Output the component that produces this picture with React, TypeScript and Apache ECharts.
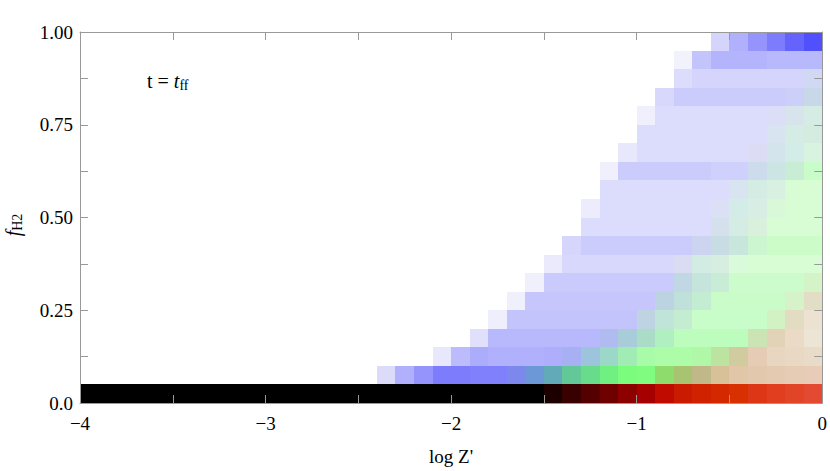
import React, { useEffect, useRef } from "react";
import * as echarts from "echarts";

// bin size of the 2D histogram (log Z' by f_H2)
const CELL_W = 0.1;
const CELL_H = 0.05;

// left edge (log Z') of the first filled bin in each f_H2 row, bottom row first
const rowStartX = [-4.0, -2.4, -2.1, -1.9, -1.8, -1.7, -1.6, -1.5, -1.4, -1.3, -1.3, -1.2, -1.2, -1.1, -1.0, -1.0, -0.9, -0.8, -0.8, -0.6];

// bin colours for each row, left to right
const row0 = [
  "#000000", "#000000", "#000000", "#000000", "#000000", "#000000", "#000000", "#000000", "#000000", "#000000",
  "#000000", "#000000", "#000000", "#000000", "#000000", "#000000", "#000000", "#000000", "#000000", "#000000",
  "#000000", "#000000", "#000000", "#000000", "#000000",
  "#1c0000", "#380000", "#540000", "#6e0000", "#8c0000", "#a60000", "#c00c00", "#ca1a00", "#d02200", "#d42800",
  "#d83000", "#dc3616", "#e03e1e", "#e24428", "#e44a32",
];
const row1 = [
  "#dcdcfa", "#b0b0fc", "#9494fc", "#7c7cfc", "#7c7cfc", "#8080fc", "#8080fc", "#7c88ec", "#6c98d8", "#62aab8",
  "#62c898", "#68dc8a", "#70f080", "#7cfc7c", "#80fc80", "#8edc6c", "#a8c470", "#c0b888", "#d8c098", "#e2c6a8",
  "#e2c8ac", "#e4cab0", "#e6ccb4", "#e8ccb8",
];
const row2 = [
  "#e8e8fc", "#bcbcfc", "#acacfc", "#b0b0fc", "#b0b0fc", "#b0b0fc", "#aeaefc", "#a6b0f2", "#9cc4dc", "#9cd8c8",
  "#a0ecb4", "#a8fca8", "#acfca8", "#acfca8", "#b0f8a8", "#bce4a0", "#d0cca0", "#e6ccb4", "#e8d6c0", "#e8d8c4",
  "#e8dcc8",
];
const row3 = [
  "#e0e0fc", "#b8b8fc", "#b8b8fc", "#b8b8fc", "#b8b8fc", "#b8b8fc", "#b8b8fc", "#b0bcf0", "#a8ccd8", "#aadcc8",
  "#b0f0c0", "#bcfcbc", "#bcfcbc", "#bcfcbc", "#bcfcbc", "#cce4b4", "#e2d2b8", "#eadac6", "#ece4d4",
];
const row4 = [
  "#eeeefc", "#c4c4fc", "#c4c4fc", "#c4c4fc", "#c4c4fc", "#c4c4fc", "#c4c4fc", "#c4c4fc", "#bed4e2", "#c0e4d8",
  "#c4ecd0", "#c8fcc8", "#c8fcc8", "#c8fcc8", "#c8fcc8", "#d2f2c4", "#e2dcc2", "#ece2d2",
];
const row5 = [
  "#f0f0fc", "#c6c6fc", "#c6c6fc", "#c6c6fc", "#c6c6fc", "#c6c6fc", "#c6c6fc", "#c6c6fc", "#bcd4e2", "#c0e0da",
  "#c4ecd2", "#cafcca", "#cafcca", "#cafcca", "#cafcca", "#d6f2c8", "#e2dec6",
];
const row6 = [
  "#f0f0fc", "#cacafc", "#cacafc", "#cacafc", "#cacafc", "#cacafc", "#cacafc", "#cacafc", "#c0d8e4", "#c4e4dc",
  "#c8ecd6", "#ccfccc", "#ccfccc", "#ccfccc", "#ccfccc", "#d4f4c8",
];
const row7 = [
  "#eaeafc", "#d8d8fc", "#d8d8fc", "#d8d8fc", "#d8d8fc", "#d8d8fc", "#d8d8fc", "#dadcf4", "#d2ece4", "#d6eee0",
  "#dafadc", "#d8fcd4", "#d8fcd4", "#d8fcd4", "#d8fcd4",
];
const row8 = [
  "#d6d6fc", "#ccccfc", "#ccccfc", "#ccccfc", "#ccccfc", "#ccccfc", "#ccccfc", "#ccd4f0", "#c8dce4", "#c8e6dc",
  "#ccf6d0", "#ccfcc8", "#ccfcc8", "#ccfcc8",
];
const row9 = [
  "#dcdcfc", "#dcdcfc", "#dcdcfc", "#dcdcfc", "#dcdcfc", "#dcdcfc", "#dcdcfc", "#d4e0ec", "#d4ece4", "#d8f0dc",
  "#d8fcd4", "#d8fcd4", "#d8fcd4",
];
const row10 = [
  "#ececfc", "#dcdcfc", "#dcdcfc", "#dcdcfc", "#dcdcfc", "#dcdcfc", "#dcdcfc", "#dce0f4", "#d4ece8", "#d8eee4",
  "#d8f8d8", "#d8fcd4", "#d8fcd4",
];
const row11 = [
  "#dcdcfc", "#dcdcfc", "#dcdcfc", "#dcdcfc", "#dcdcfc", "#dcdcfc", "#dcdcfc", "#d8e4f0", "#d4ece4", "#d8f0e0",
  "#d8fcd4", "#d8fcd4",
];
const row12 = [
  "#f0f0fc", "#ccccfc", "#ccccfc", "#ccccfc", "#ccccfc", "#ccccfc", "#d0d0fc", "#d0d0fc", "#ccdcec", "#cce4e4",
  "#c8ecd4", "#c8fcc8",
];
const row13 = [
  "#e8e8fc", "#dcdcfc", "#dcdcfc", "#dcdcfc", "#dcdcfc", "#dcdcfc", "#dcdcfc", "#dcdcf4", "#d4e4ec", "#d4ece8",
  "#d8f4e0",
];
const row14 = [
  "#dcdcfc", "#dcdcfc", "#dcdcfc", "#dcdcfc", "#dcdcfc", "#dcdcfc", "#dcdcfc", "#d8e4f0", "#d4ece4", "#d4ece0",
];
const row15 = [
  "#f0f0fc", "#dcdcfc", "#dcdcfc", "#dcdcfc", "#dcdcfc", "#dcdcfc", "#dcdcfc", "#dcdef8", "#d8e4ec", "#d4ece4",
];
const row16 = ["#d8d8fc", "#ccccfc", "#ccccfc", "#ccccfc", "#ccccfc", "#ccccfc", "#ccccfc", "#ccd0f8", "#c8d8e8"];
const row17 = ["#dcdcfc", "#d4d4fc", "#d4d4fc", "#d4d4fc", "#d4d4fc", "#d4d4fc", "#d4d4fc", "#d0d8f4"];
const row18 = ["#f2f2fc", "#c4c4fc", "#b4b4fc", "#b4b4fc", "#b4b4fc", "#b8b8fc", "#b8b8fc", "#b8b8fc"];
const row19 = ["#d4d4fc", "#b0b0fc", "#9494fc", "#7c7cfc", "#6464fc", "#5050fc"];

const rowColors = [
  row0, row1, row2, row3, row4, row5, row6, row7, row8, row9,
  row10, row11, row12, row13, row14, row15, row16, row17, row18, row19,
];

// axes
const xMin = -4;
const xMax = 0;
const xTickStep = 0.5;
const xLabelValues = [-4, -3, -2, -1, 0];
const xLabelTexts = ["\u22124", "\u22123", "\u22122", "\u22121", "0"];
const yMin = 0;
const yMax = 1;
const yTickStep = 0.125;
const yLabelValues = [0, 0.25, 0.5, 0.75, 1];
const yLabelTexts = ["0.0", "0.25", "0.50", "0.75", "1.00"];

const xTitle = "log Z'";
const yTitleMain = "f";
const yTitleSub = "H2";
const noteMain = "t = ";
const noteItalic = "t";
const noteSub = "ff";

const FONT = "'Liberation Serif', 'Times New Roman', Times, serif";

function labelFor(values: number[], texts: string[], v: number): string {
  const i = values.findIndex((t) => Math.abs(t - v) < 1e-6);
  return i >= 0 ? texts[i] : "";
}

export default function App() {
  const ref = useRef<HTMLDivElement>(null);

  useEffect(() => {
    if (!ref.current) return;
    const chart = echarts.init(ref.current, null, { renderer: "svg" });

    const data: any[] = [];
    rowColors.forEach((colors, r) => {
      colors.forEach((c, i) => {
        data.push({ value: [rowStartX[r] + i * CELL_W, r * CELL_H], itemStyle: { color: c } });
      });
    });

    const lineStyle = { color: "#999999", width: 1 };
    const commonAxis = {
      type: "value",
      splitLine: { show: false },
      axisLine: { show: true, onZero: false, lineStyle },
      axisTick: { show: true, inside: true, length: 8, lineStyle },
      z: 10,
    };
    const xBase = { ...commonAxis, min: xMin, max: xMax, interval: xTickStep };
    const yBase = { ...commonAxis, min: yMin, max: yMax, interval: yTickStep };
    const labelStyle = { fontFamily: FONT, fontSize: 19, color: "#000000" };

    chart.setOption({
      animation: false,
      backgroundColor: "#ffffff",
      grid: { left: 80, right: 7, top: 32, bottom: 67, containLabel: false },
      xAxis: [
        {
          ...xBase,
          position: "bottom",
          axisLabel: {
            ...labelStyle,
            margin: 11,
            showMinLabel: true,
            showMaxLabel: true,
            formatter: (v: number) => labelFor(xLabelValues, xLabelTexts, v),
          },
          name: xTitle,
          nameLocation: "middle",
          nameGap: 44,
          nameTextStyle: { fontFamily: FONT, fontSize: 19, color: "#000000" },
        },
        { ...xBase, position: "top", axisLabel: { show: false } },
      ],
      yAxis: [
        {
          ...yBase,
          position: "left",
          axisLabel: {
            ...labelStyle,
            margin: 7,
            showMinLabel: true,
            showMaxLabel: true,
            formatter: (v: number) => labelFor(yLabelValues, yLabelTexts, v),
          },
        },
        { ...yBase, position: "right", axisLabel: { show: false } },
      ],
      graphic: [
        {
          type: "text",
          x: 147,
          y: 80.5,
          z: 20,
          style: {
            text: `{r|${noteMain}}{i|${noteItalic}}{s|${noteSub}}`,
            align: "left",
            verticalAlign: "middle",
            rich: {
              r: { fontFamily: FONT, fontSize: 20, lineHeight: 24, fill: "#000000" },
              i: { fontFamily: FONT, fontSize: 20, fontStyle: "italic", lineHeight: 24, fill: "#000000" },
              s: { fontFamily: FONT, fontSize: 14, lineHeight: 13, verticalAlign: "bottom", fill: "#000000" },
            },
          },
        },
        {
          type: "text",
          x: 12.5,
          y: 225,
          rotation: Math.PI / 2,
          z: 20,
          style: {
            text: `{f|${yTitleMain}}{s|${yTitleSub}}`,
            align: "center",
            verticalAlign: "middle",
            rich: {
              f: { fontFamily: FONT, fontSize: 20, fontStyle: "italic", lineHeight: 24, fill: "#000000" },
              s: { fontFamily: FONT, fontSize: 14, lineHeight: 12, verticalAlign: "bottom", fill: "#000000" },
            },
          },
        },
      ],
      series: [
        {
          type: "custom",
          xAxisIndex: 0,
          yAxisIndex: 0,
          encode: { x: 0, y: 1 },
          data,
          renderItem: (params: any, api: any) => {
            const x0 = api.value(0);
            const y0 = api.value(1);
            const p0 = api.coord([x0, y0 + CELL_H]);
            const p1 = api.coord([x0 + CELL_W, y0]);
            const left = Math.round(p0[0]);
            const top = Math.round(p0[1]);
            const right = Math.round(p1[0]);
            const bottom = Math.round(p1[1]);
            return {
              type: "rect",
              shape: { x: left, y: top, width: right - left, height: bottom - top },
              style: { fill: api.visual("color") },
            };
          },
        },
      ],
    });

    return () => chart.dispose();
  }, []);

  return (
    <div
      ref={ref}
      style={{ position: "fixed", left: 0, top: 0, width: 830, height: 471, background: "#ffffff" }}
    />
  );
}
